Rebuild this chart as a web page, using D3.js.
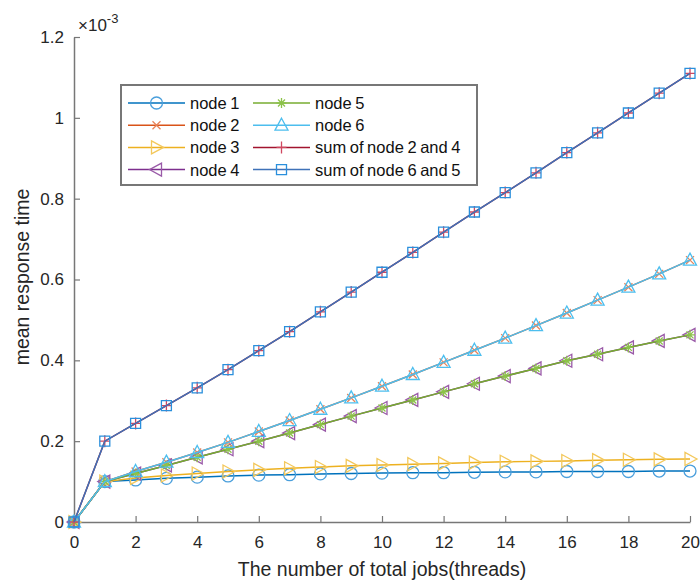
<!DOCTYPE html>
<html>
<head>
<meta charset="utf-8">
<script src="https://cdn.jsdelivr.net/npm/d3@7"></script>
<style>
  body { margin: 0; background: #fff; }
  svg { font-family: "Liberation Sans", Arial, sans-serif; }
</style>
</head>
<body>
<svg width="700" height="582"></svg>
<script>
let width = 700, height = 582;

// Data (values in units of 1e-3)
let jobs = [0, 1, 2, 3, 4, 5, 6, 7, 8, 9, 10, 11, 12, 13, 14, 15, 16, 17, 18, 19, 20];
let node1 = [0, 0.100, 0.104, 0.108, 0.111, 0.114, 0.116, 0.117, 0.119, 0.120, 0.121, 0.122, 0.122, 0.123, 0.124, 0.124, 0.125, 0.125, 0.125, 0.126, 0.126];
let node2 = [0, 0.100, 0.125, 0.148, 0.172, 0.197, 0.224, 0.251, 0.279, 0.307, 0.336, 0.365, 0.395, 0.425, 0.455, 0.486, 0.517, 0.549, 0.581, 0.614, 0.648];
let node3 = [0, 0.100, 0.109, 0.115, 0.120, 0.125, 0.129, 0.133, 0.136, 0.139, 0.141, 0.143, 0.145, 0.147, 0.149, 0.150, 0.151, 0.153, 0.154, 0.155, 0.156];
let node4 = [0, 0.100, 0.120, 0.140, 0.160, 0.180, 0.200, 0.220, 0.241, 0.262, 0.282, 0.302, 0.322, 0.342, 0.361, 0.380, 0.399, 0.415, 0.432, 0.448, 0.463];
let node5 = [0, 0.100, 0.120, 0.140, 0.160, 0.180, 0.200, 0.220, 0.241, 0.262, 0.282, 0.302, 0.322, 0.342, 0.361, 0.380, 0.399, 0.415, 0.432, 0.448, 0.463];
let node6 = [0, 0.100, 0.125, 0.148, 0.172, 0.197, 0.224, 0.251, 0.279, 0.307, 0.336, 0.365, 0.395, 0.425, 0.455, 0.486, 0.517, 0.549, 0.581, 0.614, 0.648];
let sum24 = [0, 0.200, 0.244, 0.288, 0.332, 0.377, 0.424, 0.471, 0.520, 0.569, 0.618, 0.667, 0.717, 0.767, 0.815, 0.864, 0.914, 0.963, 1.012, 1.061, 1.110];
let sum65 = [0, 0.200, 0.244, 0.288, 0.332, 0.377, 0.424, 0.471, 0.520, 0.569, 0.618, 0.667, 0.717, 0.767, 0.815, 0.864, 0.914, 0.963, 1.012, 1.061, 1.110];

let seriesNames = ["node 1", "node 2", "node 3", "node 4", "node 5", "node 6", "sum of node 2 and 4", "sum of node 6 and 5"];
let seriesValues = [node1, node2, node3, node4, node5, node6, sum24, sum65];
let seriesColors = ["#0072BD", "#D95319", "#EDB120", "#7E2F8E", "#77AC30", "#4DBEEE", "#A2142F", "#3f72b8"];
let markerColors = ["#4a9fdc", "#e8845a", "#f3c85c", "#9a5aa8", "#8cc24a", "#4DBEEE", "#d04860", "#2a8fdc"];
let seriesMarkers = ["circle", "x", "right", "left", "star", "up", "plus", "square"];

let xTicks = [0, 2, 4, 6, 8, 10, 12, 14, 16, 18, 20];
let yTicks = [0, 0.2, 0.4, 0.6, 0.8, 1, 1.2];

let svg = d3.select("svg");

let x = d3.scaleLinear().domain([0, 20]).range([74, 690]);
let y = d3.scaleLinear().domain([0, 1.2]).range([522, 37]);

// Axes (MATLAB style: ticks pointing inward)
let xAxis = svg.append("g")
    .attr("transform", "translate(0," + 522 + ")")
    .call(d3.axisBottom(x).tickValues(xTicks).tickSize(-6).tickSizeOuter(0).tickPadding(14).tickFormat(d3.format("d")));
let yAxis = svg.append("g")
    .attr("transform", "translate(" + 74 + ",0)")
    .call(d3.axisLeft(y).tickValues(yTicks).tickSize(-6).tickSizeOuter(0).tickPadding(10).tickFormat(d => d === 0 ? "0" : d3.format("")(d)));

[xAxis, yAxis].forEach(a => {
    a.select(".domain").attr("stroke", "#777").attr("stroke-width", 1.5);
    a.selectAll(".tick line").attr("stroke", "#777").attr("stroke-width", 1.2);
    a.selectAll(".tick text").attr("fill", "#262626").style("font-size", "17px");
});

// exponent label
let expo = svg.append("text")
    .attr("x", 78)
    .attr("y", 31)
    .attr("fill", "#262626")
    .style("font-size", "17px");
expo.append("tspan").text("\u00d710");
expo.append("tspan").attr("dy", -8).style("font-size", "13px").text("-3");

// axis titles
svg.append("text")
    .attr("x", 382)
    .attr("y", 576)
    .attr("text-anchor", "middle")
    .attr("fill", "#262626")
    .style("font-size", "19.5px")
    .text("The number of total jobs(threads)");

svg.append("text")
    .attr("transform", "translate(29,277) rotate(-90)")
    .attr("text-anchor", "middle")
    .attr("fill", "#262626")
    .style("font-size", "19.5px")
    .text("mean response time");

// marker paths
function markerPath(type, cx, cy) {
    let s = 6;
    switch (type) {
        case "circle":
            return "M" + (cx - s) + "," + cy + "a" + s + "," + s + " 0 1,0 " + (2 * s) + ",0a" + s + "," + s + " 0 1,0 " + (-2 * s) + ",0";
        case "x":
            return "M" + (cx - 4) + "," + (cy - 4) + "L" + (cx + 4) + "," + (cy + 4) + "M" + (cx - 4) + "," + (cy + 4) + "L" + (cx + 4) + "," + (cy - 4);
        case "plus":
            return "M" + (cx - 5) + "," + cy + "L" + (cx + 5) + "," + cy + "M" + cx + "," + (cy - 6) + "L" + cx + "," + (cy + 6);
        case "star":
            return "M" + (cx - 5) + "," + cy + "L" + (cx + 5) + "," + cy + "M" + cx + "," + (cy - 5) + "L" + cx + "," + (cy + 5) +
                "M" + (cx - 3.5) + "," + (cy - 3.5) + "L" + (cx + 3.5) + "," + (cy + 3.5) + "M" + (cx - 3.5) + "," + (cy + 3.5) + "L" + (cx + 3.5) + "," + (cy - 3.5);
        case "square":
            return "M" + (cx - 5) + "," + (cy - 5) + "h10v10h-10Z";
        case "up":
            return "M" + cx + "," + (cy - 7) + "L" + (cx + 6.5) + "," + (cy + 5) + "L" + (cx - 6.5) + "," + (cy + 5) + "Z";
        case "right":
            return "M" + (cx + 7) + "," + cy + "L" + (cx - 5) + "," + (cy - 6.5) + "L" + (cx - 5) + "," + (cy + 6.5) + "Z";
        case "left":
            return "M" + (cx - 7) + "," + cy + "L" + (cx + 5) + "," + (cy - 6.5) + "L" + (cx + 5) + "," + (cy + 6.5) + "Z";
    }
}

let line = d3.line()
    .x((d, i) => x(jobs[i]))
    .y(d => y(d));

let plot = svg.append("g");

seriesValues.forEach((vals, k) => {
    let g = plot.append("g");
    g.append("path")
        .datum(vals)
        .attr("fill", "none")
        .attr("stroke", seriesColors[k])
        .attr("stroke-width", 1.5)
        .attr("d", line);
    g.selectAll("path.marker")
        .data(vals)
        .enter()
        .append("path")
        .attr("class", "marker")
        .attr("fill", "none")
        .attr("stroke", markerColors[k])
        .attr("stroke-width", 1.3)
        .attr("d", (d, i) => markerPath(seriesMarkers[k], x(jobs[i]), y(d)));
});

// Legend
let legend = svg.append("g").attr("id", "legend");
legend.append("rect")
    .attr("x", 121)
    .attr("y", 85)
    .attr("width", 356)
    .attr("height", 100)
    .attr("fill", "#fff")
    .attr("stroke", "#777")
    .attr("stroke-width", 2);

let legenditem = legend.selectAll(".legenditem")
    .data(d3.range(seriesNames.length))
    .enter()
    .append("g")
    .attr("class", "legenditem")
    .attr("transform", function (d) {
        let col = Math.floor(d / 4), row = d % 4;
        return "translate(" + (128 + col * 125) + "," + (103 + row * 22.2) + ")";
    });

legenditem.append("line")
    .attr("x1", 0)
    .attr("x2", 57)
    .attr("y1", 0)
    .attr("y2", 0)
    .attr("stroke", d => seriesColors[d])
    .attr("stroke-width", 1.5);

legenditem.append("path")
    .attr("fill", "none")
    .attr("stroke", d => markerColors[d])
    .attr("stroke-width", 1.3)
    .attr("d", d => markerPath(seriesMarkers[d], 28.5, 0));

legenditem.append("text")
    .attr("x", 62)
    .attr("y", 6)
    .attr("fill", "#111")
    .style("font-size", "16.5px")
    .style("word-spacing", "-1px")
    .text(d => seriesNames[d]);
</script>
</body>
</html>
